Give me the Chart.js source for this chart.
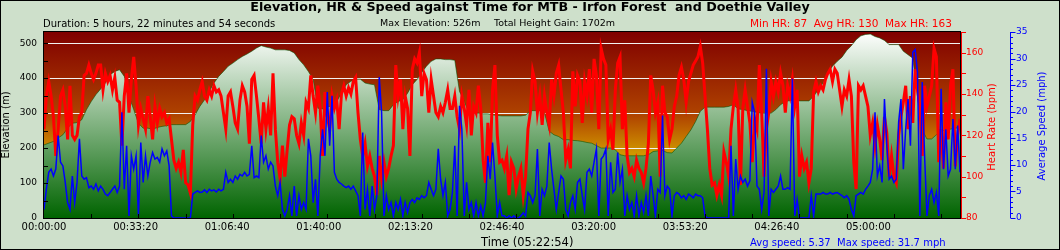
<!DOCTYPE html>
<html>
<head>
<meta charset="utf-8">
<title>Elevation, HR &amp; Speed against Time</title>
<script src="https://cdn.jsdelivr.net/npm/chart.js@4.4.1/dist/chart.umd.min.js"></script>
<style>
  html, body { margin: 0; padding: 0; background: #cee0cb; }
  canvas { display: block; }
</style>
</head>
<body>
<canvas id="chart" width="1060" height="250"></canvas>
<script>
// elevation read every 100 s, heart rate and speed every 50 s
const elevationStep = 100;
const sensorStep = 50;

const elevation = [
  209, 214, 219, 229, 238, 257, 271, 273, 281, 310,
  333, 353, 369, 386, 410, 419, 424, 405, 348, 310,
  271, 257, 257, 254, 259, 262, 264, 267, 267, 267,
  267, 276, 295, 319, 338, 362, 386, 405, 419, 434,
  443, 453, 462, 469, 477, 486, 493, 489, 486, 481,
  481, 481, 479, 472, 453, 438, 419, 396, 314, 312,
  317, 321, 333, 357, 381, 391, 397, 397, 386, 383,
  381, 310, 307, 307, 324, 333, 338, 357, 381, 396,
  416, 434, 448, 455, 455, 453, 453, 451, 362, 333,
  300, 300, 300, 298, 298, 295, 293, 292, 292, 292,
  292, 292, 294, 307, 307, 307, 300, 248, 238, 233,
  224, 224, 222, 221, 219, 216, 214, 207, 200, 200,
  200, 195, 181, 178, 178, 178, 178, 178, 181, 190,
  192, 193, 187, 186, 200, 214, 233, 252, 276, 305,
  317, 317, 317, 317, 317, 319, 324, 312, 310, 307,
  305, 302, 300, 298, 300, 310, 324, 333, 336, 336,
  335, 335, 335, 348, 367, 386, 415, 434, 448, 460,
  479, 493, 510, 521, 525, 526, 519, 515, 508, 496,
  496, 496, 477, 467, 457, 348, 252, 226, 226, 238,
  248, 252, 254, 257, 258
];

const heartRate = [
  123, 139, 146, 139, 129, 110, 123, 139, 142, 134,
  118, 144, 120, 118, 120, 129, 131, 149, 150, 154,
  150, 147, 150, 154, 154, 142, 150, 146, 149, 142,
  148, 137, 136, 115, 139, 150, 131, 147, 158, 144,
  125, 133, 128, 123, 139, 129, 118, 134, 126, 133,
  129, 131, 126, 128, 118, 108, 104, 107, 102, 113,
  97, 96, 92, 125, 139, 137, 142, 146, 139, 137,
  142, 139, 144, 141, 142, 139, 131, 123, 139, 141,
  134, 126, 123, 137, 144, 141, 134, 116, 147, 149,
  139, 128, 116, 136, 123, 133, 120, 150, 123, 107,
  99, 115, 100, 113, 125, 129, 128, 120, 116, 126,
  120, 136, 133, 149, 139, 131, 144, 133, 110, 141,
  129, 123, 139, 133, 137, 123, 140, 144, 139, 143,
  140, 146, 148, 131, 118, 110, 116, 105, 110, 104,
  100, 91, 110, 99, 107, 100, 104, 110, 115, 154,
  139, 147, 123, 139, 133, 110, 152, 157, 155, 160,
  139, 150, 147, 131, 147, 139, 131, 129, 134, 131,
  136, 142, 133, 133, 139, 129, 123, 139, 133, 125,
  142, 120, 134, 131, 144, 133, 108, 97, 126, 107,
  142, 154, 120, 107, 108, 104, 110, 91, 107, 104,
  94, 100, 104, 91, 100, 123, 131, 151, 146, 131,
  139, 125, 139, 131, 125, 147, 139, 150, 154, 142,
  131, 108, 113, 104, 151, 134, 149, 146, 126, 146,
  139, 152, 131, 157, 149, 123, 162, 157, 154, 118,
  123, 113, 142, 155, 158, 123, 137, 110, 102, 104,
  100, 108, 104, 102, 97, 104, 116, 149, 142, 131,
  136, 100, 144, 131, 129, 118, 123, 134, 139, 149,
  153, 147, 136, 146, 150, 154, 156, 158, 163, 155,
  139, 123, 104, 96, 97, 91, 96, 91, 112, 107,
  100, 123, 134, 142, 133, 96, 133, 142, 134, 126,
  107, 128, 123, 154, 131, 100, 123, 131, 146, 139,
  146, 141, 150, 144, 131, 144, 139, 147, 134, 142,
  100, 110, 104, 107, 97, 104, 141, 146, 141, 144,
  142, 147, 150, 152, 146, 152, 150, 142, 134, 142,
  139, 147, 139, 107, 94, 144, 142, 144, 139, 134,
  120, 126, 115, 125, 118, 108, 129, 121, 100, 110,
  100, 97, 120, 129, 136, 144, 123, 139, 126, 152,
  142, 134, 110, 144, 134, 139, 144, 162, 158, 107,
  123, 104, 136, 118, 144, 152, 105, 120, 128
];

const speed = [
  1.6, 5.4, 8.6, 9.2, 7.9, 9.2, 15.5, 10.5, 9.8, 6.7,
  2.9, 1.6, 7.9, 2.9, 6.7, 14.9, 7.9, 7.3, 7.6, 5.7,
  6.0, 5.4, 6.4, 5.1, 6.0, 5.4, 4.5, 4.2, 4.8, 5.4,
  6.0, 4.8, 6.0, 19.9, 5.4, 13.6, 0.4, 11.7, 9.2, 11.7,
  0.4, 14.2, 6.7, 11.7, 7.9, 10.5, 12.3, 11.1, 11.4, 10.5,
  13.0, 11.7, 12.6, 9.8, 0.4, 0, 0, 0, 0, 0,
  0, 0, 0, 4.5, 4.8, 5.1, 4.8, 4.9, 5.3, 4.8,
  5.4, 5.1, 5.3, 4.9, 5.4, 5.1, 5.4, 8.6, 6.7, 7.3,
  6.7, 7.9, 7.3, 8.2, 7.9, 8.6, 7.9, 8.2, 13.6, 7.6,
  7.9, 7.6, 15.5, 10.5, 11.7, 9.2, 10.5, 9.8, 6.0, 4.2,
  6.7, 1.6, 0.4, 1.6, 4.2, 0.4, 6.0, 0.4, 4.2, 1.6,
  2.9, 1.6, 14.9, 11.7, 2.9, 7.3, 0.4, 11.7, 16.7, 11.7,
  23.7, 13.6, 23.0, 8.6, 7.3, 6.7, 6.4, 6.0, 5.7, 6.0,
  5.4, 6.0, 5.1, 4.2, 0.4, 16.1, 1.6, 5.4, 0.4, 6.0,
  1.6, 4.2, 26.5, 19.9, 0.4, 4.2, 1.6, 2.9, 0.4, 2.9,
  1.6, 3.5, 0.4, 2.9, 1.0, 2.9, 3.5, 2.9, 3.8, 3.5,
  4.2, 3.8, 4.2, 6.7, 5.4, 4.2, 5.4, 13.0, 7.3, 4.2,
  6.7, 0.4, 1.6, 4.8, 13.6, 0.4, 21.1, 16.7, 0.4, 6.7,
  1.6, 2.9, 0.4, 2.9, 0.4, 2.3, 0.4, 2.9, 11.7, 7.3,
  14.2, 7.9, 0.4, 2.9, 0.4, 0.4, 0, 0.4, 0, 0.4,
  0, 0, 0.4, 1.0, 0.4, 4.8, 4.2, 2.9, 4.2, 13.0,
  0.4, 5.4, 4.2, 6.0, 14.2, 9.2, 5.4, 1.6, 4.8, 7.9,
  7.3, 1.6, 0.4, 2.9, 4.2, 1.6, 6.7, 7.3, 4.2, 1.6,
  8.6, 9.2, 7.9, 10.5, 13.0, 0.4, 11.1, 11.7, 13.0, 0.4,
  10.5, 4.8, 5.4, 12.3, 6.7, 9.2, 0.4, 4.2, 1.6, 2.9,
  0.4, 4.2, 0.4, 2.9, 1.0, 4.2, 0.4, 7.9, 4.2, 0.4,
  5.4, 4.8, 19.3, 4.2, 6.0, 5.4, 0.4, 4.2, 4.8, 4.5,
  3.8, 4.2, 3.5, 4.5, 4.2, 3.8, 4.5, 4.2, 4.2, 3.8,
  0.4, 0, 0, 0, 0, 0, 0, 0, 0, 0,
  0, 13.6, 0.4, 11.1, 5.4, 7.9, 6.7, 7.3, 6.0, 7.0,
  21.8, 19.9, 6.0, 5.4, 1.6, 4.8, 28.1, 0.4, 5.4, 4.8,
  5.4, 6.0, 7.9, 5.4, 5.4, 5.7, 5.4, 26.2, 0.4, 3.5,
  0, 0, 0, 0, 0, 4.2, 0.4, 4.5, 4.5, 4.5,
  4.8, 4.5, 4.5, 4.8, 4.5, 4.7, 4.8, 4.5, 4.2, 3.8,
  4.2, 3.5, 1.6, 0.4, 4.2, 4.5, 4.8, 4.5, 5.4, 6.0,
  6.7, 9.2, 19.9, 7.9, 9.8, 6.7, 22.4, 13.6, 7.3, 7.9,
  6.7, 7.3, 18.0, 22.4, 9.2, 16.7, 22.4, 13.6, 31.2, 31.7,
  27.4, 0.4, 25.6, 11.7, 0.4, 4.2, 5.4, 2.9, 4.8, 0.4,
  24.3, 9.2, 16.7, 7.9, 9.2, 18.6, 9.2, 17.4, 8.6
];

const timeTickLabels = [
  '00:00:00', '00:33:20', '01:06:40', '01:40:00', '02:13:20',
  '02:46:40', '03:20:00', '03:53:20', '04:26:40', '05:00:00'
];

const titleText = 'Elevation, HR & Speed against Time for MTB - Irfon Forest  and Doethie Valley';
const durationText = 'Duration: 5 hours, 22 minutes and 54 seconds';
const maxElevText = 'Max Elevation: 526m';
const gainText = 'Total Height Gain: 1702m';
const hrText = 'Min HR: 87  Avg HR: 130  Max HR: 163';
const timeText = 'Time (05:22:54)';
const speedText = 'Avg speed: 5.37  Max speed: 31.7 mph';

const FONT = '"DejaVu Sans", Verdana, sans-serif';
const RED = '#ff0000';
const BLUE = '#0000ff';

const points = (arr, step) => arr.map((v, i) => ({ x: i * step, y: v }));

function vtext(ctx, text, x, y, color) {
    ctx.save();
    ctx.translate(x, y);
    ctx.rotate(-Math.PI / 2);
    ctx.fillStyle = color;
    ctx.textAlign = 'center';
    ctx.textBaseline = 'middle';
    ctx.fillText(text, 0, 0);
    ctx.restore();
}

const decor = {
    id: 'decor',
    beforeDraw(chart) {
        const { ctx, chartArea: a, width, height } = chart;
        ctx.save();
        ctx.fillStyle = '#cee0cb';
        ctx.fillRect(0, 0, width, height);
        ctx.strokeStyle = '#000';
        ctx.lineWidth = 1;
        ctx.strokeRect(0.5, 0.5, width - 1, height - 1);
        const g = ctx.createLinearGradient(0, a.top, 0, a.bottom);
        g.addColorStop(0, '#800000');
        g.addColorStop(0.45, '#b04400');
        g.addColorStop(0.65, '#d09600');
        g.addColorStop(1, '#e8c000');
        ctx.fillStyle = g;
        ctx.fillRect(a.left, a.top, a.right - a.left, a.bottom - a.top);
        ctx.restore();
    },
    afterDatasetsDraw(chart) {
        const { ctx, chartArea: a } = chart;
        const { x, y, y1, y2 } = chart.scales;
        ctx.save();
        ctx.lineWidth = 1;

        // inward ticks on elevation and time
        ctx.strokeStyle = '#000';
        ctx.beginPath();
        for (let v = 50; v <= 500; v += 50) {
            const py = Math.round(y.getPixelForValue(v)) + 0.5;
            ctx.moveTo(a.left, py);
            ctx.lineTo(a.left + 4, py);
        }
        for (let t = 1000; t < x.max; t += 1000) {
            const px = Math.round(x.getPixelForValue(t)) + 0.5;
            ctx.moveTo(px, a.bottom);
            ctx.lineTo(px, a.bottom - 4);
        }
        ctx.stroke();
        ctx.strokeRect(a.left - 0.5, a.top - 0.5, a.right - a.left + 1, a.bottom - a.top + 1);

        // heart rate axis
        ctx.strokeStyle = RED;
        ctx.beginPath();
        ctx.moveTo(a.right + 1.5, a.top);
        ctx.lineTo(a.right + 1.5, a.bottom);
        for (let v = 80; v <= 170; v += 10) {
            const py = Math.round(y1.getPixelForValue(v)) + 0.5;
            ctx.moveTo(a.right + 1, py);
            ctx.lineTo(a.right + 6, py);
        }
        ctx.stroke();

        // speed axis
        const sx = y2.left + 0.5;
        ctx.strokeStyle = BLUE;
        ctx.beginPath();
        ctx.moveTo(sx, y2.getPixelForValue(35));
        ctx.lineTo(sx, y2.getPixelForValue(0));
        for (let v = 0; v <= 35; v += 1) {
            const py = Math.round(y2.getPixelForValue(v)) + 0.5;
            ctx.moveTo(sx, py);
            ctx.lineTo(sx + (v % 5 === 0 ? 5 : 2.5), py);
        }
        ctx.stroke();
        ctx.restore();
    },
    afterDraw(chart) {
        const { ctx } = chart;
        ctx.save();
        ctx.textBaseline = 'middle';
        ctx.fillStyle = '#000';
        ctx.font = 'bold 12.7px ' + FONT;
        ctx.textAlign = 'center';
        ctx.fillText(titleText, 530, 8);

        ctx.textAlign = 'left';
        ctx.font = '10px ' + FONT;
        ctx.fillText(durationText, 43, 24);
        ctx.font = '9.5px ' + FONT;
        ctx.fillText(maxElevText, 380, 24);
        ctx.fillText(gainText, 494, 24);
        ctx.fillStyle = RED;
        ctx.font = '10.5px ' + FONT;
        ctx.fillText(hrText, 750, 24);

        ctx.fillStyle = '#000';
        ctx.font = '11.5px ' + FONT;
        ctx.fillText(timeText, 481, 243);
        ctx.fillStyle = BLUE;
        ctx.font = '10px ' + FONT;
        ctx.fillText(speedText, 750, 243);

        ctx.font = '10px ' + FONT;
        vtext(ctx, 'Elevation (m)', 6, 125, '#000');
        vtext(ctx, 'Heart Rate (bpm)', 992.5, 127, RED);
        vtext(ctx, 'Average Speed (mph)', 1042.5, 126, BLUE);
        ctx.restore();
    }
};

const elevationFill = context => {
    const { ctx, chartArea } = context.chart;
    if (!chartArea) {
        return '#6a9f6a';
    }
    const g = ctx.createLinearGradient(0, chartArea.top, 0, chartArea.bottom);
    g.addColorStop(0, '#ffffff');
    g.addColorStop(1, '#006400');
    return g;
};

new Chart(document.getElementById('chart'), {
    type: 'line',
    data: {
        datasets: [
            {
                label: 'Average Speed',
                data: points(speed, sensorStep),
                yAxisID: 'y2',
                borderColor: BLUE,
                borderWidth: 1.5,
                order: 0,
            },
            {
                label: 'Heart Rate',
                data: points(heartRate, sensorStep),
                yAxisID: 'y1',
                borderColor: RED,
                borderWidth: 3,
                order: 1,
            },
            {
                label: 'Elevation',
                data: points(elevation, elevationStep),
                yAxisID: 'y',
                fill: 'origin',
                backgroundColor: elevationFill,
                borderColor: 'rgba(0,80,0,0.55)',
                borderWidth: 1,
                order: 2,
            },
        ],
    },
    options: {
        responsive: false,
        animation: false,
        devicePixelRatio: 1,
        layout: { padding: { top: 32, left: 0, right: 0, bottom: 0 } },
        elements: { point: { radius: 0 }, line: { tension: 0 } },
        plugins: { legend: { display: false }, tooltip: { enabled: false } },
        scales: {
            x: {
                type: 'linear',
                min: 0,
                max: 19400,
                afterFit: s => { s.height = 32; },
                grid: { display: false, drawTicks: false },
                border: { display: false },
                ticks: {
                    stepSize: 2000,
                    includeBounds: false,
                    autoSkip: false,
                    maxRotation: 0,
                    padding: 3,
                    color: '#000',
                    font: { family: FONT, size: 10 },
                    callback: v => timeTickLabels[Math.round(v / 2000)] ?? '',
                },
            },
            y: {
                position: 'left',
                min: 0,
                max: 532,
                afterFit: s => { s.width = 44; },
                grid: {
                    drawTicks: false,
                    color: c => (c.tick && c.tick.value > 0 ? '#f2f2f2' : 'rgba(0,0,0,0)'),
                },
                border: { display: false },
                ticks: {
                    stepSize: 100,
                    includeBounds: false,
                    padding: 7,
                    color: '#000',
                    font: { family: FONT, size: 9 },
                },
            },
            y1: {
                position: 'right',
                min: 80,
                max: 170,
                afterFit: s => { s.width = 50; },
                grid: { display: false, drawTicks: false },
                border: { display: false },
                ticks: {
                    stepSize: 20,
                    includeBounds: false,
                    padding: 6,
                    color: RED,
                    font: { family: FONT, size: 9 },
                },
            },
            y2: {
                position: 'right',
                min: 0,
                max: 35,
                afterFit: s => { s.width = 50; },
                grid: { display: false, drawTicks: false },
                border: { display: false },
                ticks: {
                    stepSize: 5,
                    includeBounds: false,
                    padding: 6,
                    color: BLUE,
                    font: { family: FONT, size: 9 },
                },
            },
        },
    },
    plugins: [decor],
});
</script>
</body>
</html>
